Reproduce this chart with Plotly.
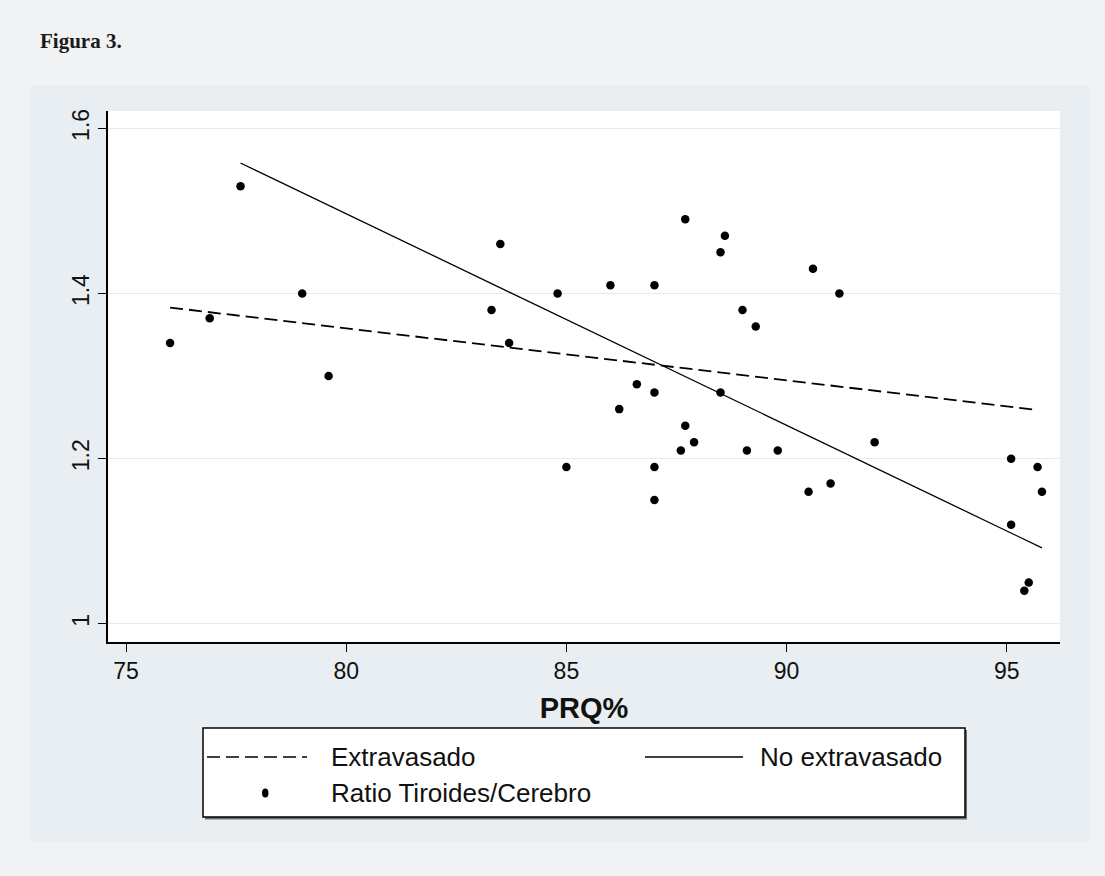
import plotly.graph_objects as go

# ---- data ----
prq = [76.0, 76.9, 77.6, 79.0, 79.6, 83.3, 83.5, 83.7, 84.8, 85.0,
       86.0, 86.2, 86.6, 87.0, 87.0, 87.0, 87.0, 87.6, 87.7, 87.7,
       87.9, 88.5, 88.5, 88.6, 89.0, 89.1, 89.3, 89.8, 90.5, 90.6,
       91.0, 91.2, 92.0, 95.1, 95.1, 95.4, 95.5, 95.7, 95.8]
ratio = [1.34, 1.37, 1.53, 1.40, 1.30, 1.38, 1.46, 1.34, 1.40, 1.19,
         1.41, 1.26, 1.29, 1.41, 1.28, 1.19, 1.15, 1.21, 1.49, 1.24,
         1.22, 1.45, 1.28, 1.47, 1.38, 1.21, 1.36, 1.21, 1.16, 1.43,
         1.17, 1.40, 1.22, 1.20, 1.12, 1.04, 1.05, 1.19, 1.16]

fit_extra_x = [76.0, 95.7]
fit_extra_y = [1.383, 1.259]
fit_noextra_x = [77.6, 95.8]
fit_noextra_y = [1.558, 1.092]

x_ticks = [75, 80, 85, 90, 95]
y_ticks = [1.0, 1.2, 1.4, 1.6]
y_tick_text = ["1", "1.2", "1.4", "1.6"]

series_names = ["Extravasado", "No extravasado", "Ratio Tiroides/Cerebro"]
x_title = "PRQ%"
caption = "Figura 3."

# ---- layout geometry (pixels) ----
W, H = 1105, 876
PL, PR, PT, PB = 108, 1060, 111, 642
pw, ph = PR - PL, PB - PT
PAGE_BG = "#f1f2f4"


def px(x):
    return (x - PL) / pw


def py(y):
    return (PB - y) / ph


FONT = "Liberation Sans, Arial, sans-serif"

fig = go.Figure()

fig.add_trace(go.Scatter(x=prq, y=ratio, mode="markers", name=series_names[2],
                         marker=dict(color="black", size=8.5, symbol="circle"),
                         showlegend=False))
fig.add_trace(go.Scatter(x=fit_extra_x, y=fit_extra_y, mode="lines", name=series_names[0],
                         line=dict(color="black", width=1.8, dash="13px,6px"),
                         showlegend=False))
fig.add_trace(go.Scatter(x=fit_noextra_x, y=fit_noextra_y, mode="lines", name=series_names[1],
                         line=dict(color="black", width=1.3),
                         showlegend=False))

shapes = [
    # graph panel
    dict(type="rect", xref="paper", yref="paper", layer="below",
         x0=px(30), x1=px(1089), y0=py(841), y1=py(85),
         fillcolor="#e8eef1", line=dict(width=0)),
    # plot area
    dict(type="rect", xref="paper", yref="paper", layer="below",
         x0=0, x1=1, y0=0, y1=1, fillcolor="white", line=dict(width=0)),
    # legend box shadow
    dict(type="rect", xref="paper", yref="paper",
         x0=px(205), x1=px(967), y0=py(819.5), y1=py(730),
         fillcolor="#6e6e6e", line=dict(width=0)),
    # legend box
    dict(type="rect", xref="paper", yref="paper",
         x0=px(203), x1=px(965), y0=py(817), y1=py(728),
         fillcolor="white", line=dict(color="black", width=1.5)),
    # legend samples
    dict(type="line", xref="paper", yref="paper",
         x0=px(207), x1=px(307), y0=py(757), y1=py(757),
         line=dict(color="black", width=1.6, dash="13px,6px")),
    dict(type="line", xref="paper", yref="paper",
         x0=px(645), x1=px(743), y0=py(757), y1=py(757),
         line=dict(color="black", width=1.5)),
    dict(type="circle", xref="paper", yref="paper",
         x0=px(262), x1=px(268.5), y0=py(797.5), y1=py(788.5),
         fillcolor="black", line=dict(color="black", width=0)),
]

annotations = [
    dict(text="<b>" + caption + "</b>", xref="paper", yref="paper",
         x=px(38), y=py(41), xanchor="left", yanchor="middle", showarrow=False,
         font=dict(family="Liberation Serif, Times New Roman, serif", size=21, color="#1a1a1a")),
    dict(text=series_names[0], xref="paper", yref="paper",
         x=px(329), y=py(757), xanchor="left", yanchor="middle", showarrow=False,
         font=dict(family=FONT, size=26, color="#111")),
    dict(text=series_names[1], xref="paper", yref="paper",
         x=px(758), y=py(757), xanchor="left", yanchor="middle", showarrow=False,
         font=dict(family=FONT, size=26, color="#111")),
    dict(text=series_names[2], xref="paper", yref="paper",
         x=px(329), y=py(793), xanchor="left", yanchor="middle", showarrow=False,
         font=dict(family=FONT, size=26, color="#111")),
]

fig.update_layout(
    width=W, height=H, autosize=False,
    margin=dict(l=PL, r=W - PR, t=PT, b=H - PB),
    paper_bgcolor=PAGE_BG,
    plot_bgcolor="white",
    showlegend=False,
    hovermode=False,
    shapes=shapes,
    annotations=annotations,
    font=dict(family=FONT, color="#111"),
)

fig.update_xaxes(
    range=[74.59, 96.21], tickvals=x_ticks, ticktext=[str(t) for t in x_ticks],
    showgrid=False, zeroline=False,
    showline=True, linecolor="black", linewidth=1.5,
    ticks="outside", ticklen=8, tickwidth=1.3, tickcolor="black",
    tickfont=dict(family=FONT, size=23, color="#111"),
    title=dict(text="<b>" + x_title + "</b>", standoff=14,
               font=dict(family=FONT, size=29, color="#111")),
)
fig.update_yaxes(
    range=[0.978, 1.621], tickvals=y_ticks, ticktext=y_tick_text,
    tickangle=-90,
    showgrid=True, gridcolor="#e4eaed", gridwidth=1, zeroline=False,
    showline=True, linecolor="black", linewidth=1.5,
    ticks="outside", ticklen=8, tickwidth=1.3, tickcolor="black",
    tickfont=dict(family=FONT, size=23, color="#111"),
)

fig.write_html(
    "out.html",
    config={"displayModeBar": False},
    post_script="document.body.style.margin='0';document.body.style.background='" + PAGE_BG + "';",
)
